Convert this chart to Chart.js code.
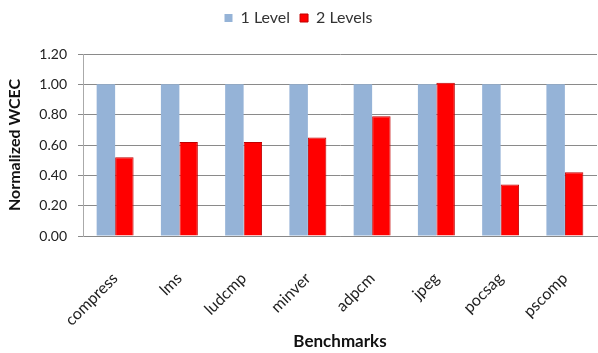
<!DOCTYPE html>
<html>
<head>
<meta charset="utf-8">
<script src="https://cdn.jsdelivr.net/npm/chart.js@4"></script>
<style>
  html, body { margin: 0; padding: 0; background: #fff; }
  #wrap { width: 598px; height: 353px; }
</style>
</head>
<body>
<div id="wrap"><canvas id="chartWcec" width="598" height="353"></canvas></div>
<script>
const benchmarks = ['compress', 'lms', 'ludcmp', 'minver', 'adpcm', 'jpeg', 'pocsag', 'pscomp'];
const oneLevel = [1.00, 1.00, 1.00, 1.00, 1.00, 1.00, 1.00, 1.00];
const twoLevels = [0.52, 0.62, 0.62, 0.65, 0.79, 1.01, 0.34, 0.42];
const yTicks = [0, 0.2, 0.4, 0.6, 0.8, 1.0, 1.2];

const FONT = 'Lato, "Open Sans", sans-serif';

// push the plot down a bit below the legend
const legendGap = {
    id: 'legendGap',
    beforeInit(chart) {
        const fit = chart.legend.fit;
        chart.legend.fit = function () {
            fit.bind(chart.legend)();
            this.height += 18;
        };
    }
};

new Chart(document.getElementById('chartWcec'), {
    type: 'bar',
    data: {
        labels: benchmarks,
        datasets: [
            { label: '1 Level', data: oneLevel, backgroundColor: '#95b3d7', borderWidth: 0 },
            { label: '2 Levels', data: twoLevels, backgroundColor: '#ff0000', borderColor: '#c00000', borderWidth: 1 }
        ]
    },
    options: {
        responsive: false, animation: false,
        devicePixelRatio: 1,
        layout: { padding: { left: 0, right: 1, top: 0, bottom: 0 } },
        datasets: { bar: { categoryPercentage: 0.575, barPercentage: 1 } },
        plugins: {
            legend: {
                position: 'top',
                labels: { color: '#333', font: { family: FONT, size: 16 }, boxWidth: 8, boxHeight: 8, padding: 10 }
            },
            tooltip: { enabled: false }
        },
        scales: {
            x: {
                afterFit: axis => {
                    axis.height = 117;
                    axis.paddingLeft = 0;
                    axis.paddingRight = 0;
                },
                grid: { display: false },
                border: { color: '#888' },
                ticks: { color: '#222', font: { family: FONT, size: 16 }, minRotation: 45, maxRotation: 45, padding: 25 },
                title: { display: true, text: 'Benchmarks', color: '#111', font: { family: FONT, size: 17, weight: 'bold' }, padding: { top: 0, bottom: 1 } }
            },
            y: {
                min: 0, max: 1.2,
                afterFit: axis => { axis.width = 83; },
                afterBuildTicks: axis => { axis.ticks = yTicks.map(v => ({ value: v })); },
                grid: { color: '#8a8a8a', tickLength: 5 },
                border: { color: '#aaa' },
                ticks: { color: '#222', font: { family: FONT, size: 14 }, padding: 11, callback: v => v.toFixed(2) },
                title: { display: true, text: 'Normalized WCEC', color: '#111', font: { family: FONT, size: 16, weight: 'bold' }, padding: { top: 5, bottom: 0 } }
            }
        }
    },
    plugins: [legendGap]
});
</script>
</body>
</html>
